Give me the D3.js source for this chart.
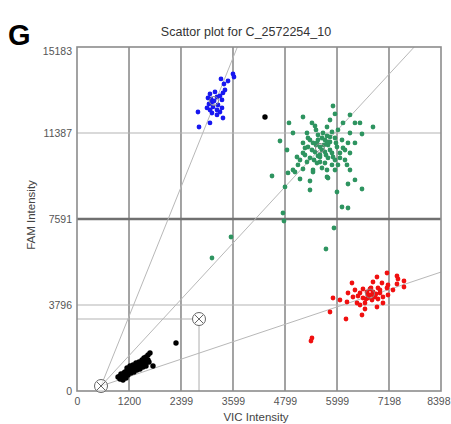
<!DOCTYPE html>
<html><head><meta charset="utf-8">
<script src="https://cdn.jsdelivr.net/npm/d3@7/dist/d3.min.js"></script>
<style>body{margin:0;background:#fff}svg{display:block;font-family:"Liberation Sans",Arial,sans-serif}</style>
</head><body><svg id="c" width="451" height="424"></svg>
<script>
const title = "Scattor plot for C_2572254_10";
const panelLetter = "G";
const xLabel = "VIC Intensity";
const yLabel = "FAM Intensity";
const xTicks = [0,1200,2399,3599,4799,5999,7198,8398];
const yTicks = [0,3796,7591,11387,15183];
const xMax = 8398, yMax = 15183;

// cluster points [VIC, FAM]
const bluePts = [[3322,13772],[3484,13683],[3622,13860],[3414,13286],[3368,13154],[3068,13110],[3022,12933],[3230,12977],[3345,12845],[3114,12756],[3045,12668],[3253,12624],[3138,12536],[3068,12403],[3230,12403],[3345,12492],[2791,12315],[3114,12271],[3230,12183],[3368,12050],[3068,11830],[2815,11653],[3161,12801],[2999,12492],[3299,13021],[3599,13992],[3391,13551],[3184,13198],[3299,12315],[3091,12889]];
const greenPts = [[5906,12580],[5952,12227],[5214,12094],[6298,12183],[4891,11830],[5421,11830],[5491,11697],[5768,11653],[6137,11830],[6413,11830],[6529,11830],[6829,11653],[5883,11432],[6021,11521],[4983,11388],[5306,11388],[5675,11388],[6298,11388],[6575,11344],[4683,11035],[5214,10947],[5445,10947],[5560,11079],[5721,11079],[5837,11212],[5952,11167],[6114,11079],[6252,10947],[6413,10947],[5329,10770],[5606,10770],[5791,10858],[5998,10770],[6137,10726],[4845,10638],[5214,10505],[5491,10549],[5721,10549],[5883,10505],[6067,10505],[6298,10505],[5075,10329],[5375,10285],[5606,10329],[5791,10285],[5952,10196],[5098,9976],[5306,10108],[5537,10064],[5721,10064],[5883,9976],[6229,9976],[6298,9755],[4983,9755],[5214,9799],[5445,9755],[5768,9755],[5952,9755],[4499,9490],[5145,9358],[5375,9269],[5768,9446],[6252,9137],[6413,9314],[5375,8872],[5998,8784],[6575,8916],[4799,9005],[6114,8122],[6252,8078],[4752,7857],[4775,7504],[5929,7195],[5744,6268],[4868,9623],[5029,9667],[5791,9402],[3553,6798],[3114,5871],[5560,11300],[5652,11167],[5514,10858],[5698,10858],[5837,10991],[5421,10638],[5652,10638],[5837,10638],[5560,10373],[5744,10417],[5906,10329],[5468,10196],[5606,10108],[6067,10285],[6183,10638],[5975,10947],[5768,11256],[5375,11079],[5260,10726],[5145,10196],[6183,10196],[6021,9976],[5652,9843],[5514,11521],[5837,11962],[5329,11167],[5537,10947],[5768,10991],[5260,10417],[5606,10417],[5445,9667]];
const redPts = [[7152,5209],[6921,5032],[7382,5076],[7405,4944],[7544,4855],[6344,4767],[6829,4811],[7036,4767],[7175,4679],[7382,4723],[7544,4591],[6598,4502],[6760,4502],[6944,4546],[7152,4546],[7290,4458],[6413,4458],[6690,4370],[6829,4370],[6990,4326],[6529,4326],[6713,4237],[6875,4149],[7059,4149],[7175,4237],[6252,4326],[6367,4149],[6598,4105],[6806,4017],[6944,4061],[5906,4105],[6067,4017],[6229,3928],[6460,3884],[6644,3884],[7059,3884],[6529,3796],[6921,3708],[6644,3619],[5837,3487],[6575,3355],[6206,3178],[5421,2339],[5398,2207],[6760,4237],[6713,4105],[6852,4193],[6898,4282],[6783,4546],[6667,4061],[6990,4458],[6483,4193]];
const blackPts = [[946,618],[992,662],[1015,750],[1061,706],[1084,795],[1107,839],[1130,750],[1154,883],[1177,839],[1200,927],[1223,883],[1246,971],[1269,927],[1292,1015],[1315,971],[1338,1059],[1361,1015],[1384,1104],[1407,1059],[1430,1148],[1453,1104],[1476,1192],[1500,1148],[1523,1236],[1546,1192],[1569,1280],[1592,1236],[1615,1324],[1638,1368],[1661,1280],[1038,574],[1107,618],[1177,706],[1246,795],[1315,839],[1384,927],[1453,971],[1523,1059],[1592,1104],[1154,1015],[1223,1104],[1292,1148],[1361,1236],[1430,1280],[1500,1368],[1546,1457],[1592,1501],[1684,1677],[1638,1589],[1753,1104],[2284,2119],[992,530],[1061,486],[1130,574],[4337,12094]];
// cluster centres (grey rings)
const centres = [[3161,12801],[5606,10726],[6760,4300]];
// reference markers (circle with X)
const refMarks = [[554,220],[2815,3177]];
// fitted rays from origin marker
const rayStart = [554,220];
const rayEnds = [[3700,15183],[7780,15183],[8398,5250]];

const svg = d3.select("#c");
const x = d3.scaleLinear().domain([0,xMax]).range([77,441]);
const y = d3.scaleLinear().domain([0,yMax]).range([391,47]);

// gridlines
svg.append("g").selectAll("line").data(xTicks.slice(1,-1)).join("line")
  .attr("x1",d=>x(d)).attr("x2",d=>x(d)).attr("y1",y(0)).attr("y2",y(yMax))
  .attr("stroke","#8c8c8c").attr("stroke-width",1.6);
svg.append("g").selectAll("line").data(yTicks.slice(1,-1)).join("line")
  .attr("x1",x(0)).attr("x2",x(xMax)).attr("y1",d=>y(d)).attr("y2",d=>y(d))
  .attr("stroke",d=>d===7591?"#707070":"#b4b4b4").attr("stroke-width",d=>d===7591?2.4:1.2);

// crosshair from second reference marker
const rm = refMarks[1];
svg.append("line").attr("x1",x(0)).attr("x2",x(rm[0])-7).attr("y1",y(rm[1])).attr("y2",y(rm[1])).attr("stroke","#b4b4b4").attr("stroke-width",1.1);
svg.append("line").attr("x1",x(rm[0])).attr("x2",x(rm[0])).attr("y1",y(rm[1])+7).attr("y2",y(0)).attr("stroke","#b4b4b4").attr("stroke-width",1.1);

// rays
svg.append("g").selectAll("line").data(rayEnds).join("line")
  .attr("x1",x(rayStart[0])).attr("y1",y(rayStart[1]))
  .attr("x2",d=>x(d[0])).attr("y2",d=>y(d[1]))
  .attr("stroke","#b8b8b8").attr("stroke-width",1);

// border
svg.append("rect").attr("x",x(0)).attr("y",y(yMax)).attr("width",x(xMax)-x(0)).attr("height",y(0)-y(yMax))
  .attr("fill","none").attr("stroke","#8c8c8c").attr("stroke-width",1.6);

function dots(data,color,r){
  svg.append("g").selectAll("circle").data(data).join("circle")
    .attr("cx",d=>x(d[0])).attr("cy",d=>y(d[1])).attr("r",r).attr("fill",color);
}
dots(greenPts,"#2e9460",2.4);
dots(redPts,"#f01010",2.4);
dots(bluePts,"#1717f0",2.4);
dots(blackPts,"#000",2.7);

// centre rings
svg.append("g").selectAll("circle").data(centres).join("circle")
  .attr("cx",d=>x(d[0])).attr("cy",d=>y(d[1])).attr("r",4.5)
  .attr("fill","none").attr("stroke","#888").attr("stroke-width",1);

// reference markers
const rg = svg.append("g").selectAll("g").data(refMarks).join("g")
  .attr("transform",d=>`translate(${x(d[0])},${y(d[1])})`);
rg.append("circle").attr("r",6.5).attr("fill","#fff").attr("fill-opacity",0.6).attr("stroke","#666").attr("stroke-width",1);
rg.append("path").attr("d","M-4,-4L4,4M-4,4L4,-4").attr("stroke","#666").attr("stroke-width",1);

// axes
const xa = svg.append("g").attr("transform",`translate(0,${y(0)})`)
  .call(d3.axisBottom(x).tickValues(xTicks).tickFormat(d=>d).tickSize(0).tickPadding(7));
const ya = svg.append("g").attr("transform",`translate(${x(0)},0)`)
  .call(d3.axisLeft(y).tickValues(yTicks).tickFormat(d=>d).tickSize(0).tickPadding(5));
[xa,ya].forEach(a=>{a.select(".domain").remove();a.selectAll("text").attr("fill","#555").style("font-size","10.5px");});
ya.selectAll("text").filter(d=>d===yMax).attr("dy","0.75em");
xa.selectAll("text").filter(d=>d===xMax).attr("text-anchor","end").attr("dx","9px");

// texts
svg.append("text").attr("x",246).attr("y",36).attr("text-anchor","middle").attr("fill","#333").style("font-size","12.5px").text(title);
svg.append("text").attr("x",8).attr("y",45).attr("fill","#000").style("font-size","29px").style("font-weight","bold").text(panelLetter);
svg.append("text").attr("x",256).attr("y",421).attr("text-anchor","middle").attr("fill","#444").style("font-size","11.5px").text(xLabel);
svg.append("text").attr("transform","translate(35,215) rotate(-90)").attr("text-anchor","middle").attr("fill","#444").style("font-size","11.5px").text(yLabel);
</script></body></html>
